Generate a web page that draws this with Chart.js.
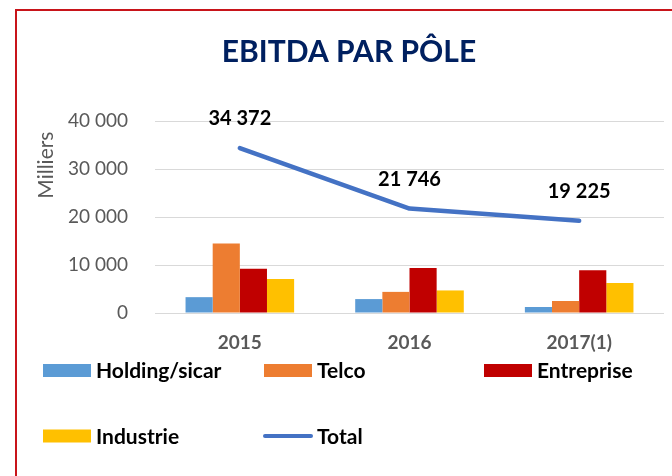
<!DOCTYPE html>
<html><head><meta charset="utf-8">
<script src="https://cdn.jsdelivr.net/npm/chart.js@4.4.0/dist/chart.umd.min.js"></script>
<style>
html,body{margin:0;padding:0;background:#fff;overflow:hidden;width:672px;height:476px;}
#frame{position:absolute;left:15px;top:9px;width:700px;height:500px;border-left:2px solid #c8141a;border-top:2px solid #c8141a;}
canvas{position:absolute;left:0;top:0;}
</style></head><body>
<div id="frame"></div>
<canvas id="c" width="672" height="476"></canvas>
<script>
const categories = ['2015', '2016', '2017(1)'];
const holding = [3300, 2900, 1250];
const telco = [14500, 4400, 2500];
const entreprise = [9200, 9400, 8900];
const industrie = [7100, 4700, 6250];
const total = [34372, 21746, 19225];
const yTicks = [0, 10000, 20000, 30000, 40000];
const titleText = 'EBITDA PAR PÔLE';
const yTitle = 'Milliers';

const FONT = 'Lato, "Open Sans", sans-serif';
function fmt(v){ return String(v).replace(/\B(?=(\d{3})+(?!\d))/g, ' '); }

const extras = {
  id: 'extras',
  afterDraw(chart){
    const ctx = chart.ctx;
    const y = chart.scales.y;
    ctx.save();
    // title
    ctx.fillStyle = '#002060';
    ctx.font = 'bold 30px ' + FONT;
    ctx.textAlign = 'center';
    ctx.textBaseline = 'alphabetic';
    ctx.fillText(titleText, 349, 62);
    // y title
    ctx.save();
    ctx.translate(46, y.getPixelForValue(30800));
    ctx.rotate(-Math.PI/2);
    ctx.fillStyle = '#595959';
    ctx.font = '21px ' + FONT;
    ctx.textAlign = 'center';
    ctx.textBaseline = 'middle';
    ctx.fillText(yTitle, 0, 0);
    ctx.restore();
    // total labels
    const meta = chart.getDatasetMeta(4);
    ctx.fillStyle = '#000';
    ctx.font = 'bold 20px ' + FONT;
    ctx.textAlign = 'center';
    ctx.textBaseline = 'middle';
    meta.data.forEach((pt, i) => {
      ctx.fillText(fmt(total[i]), pt.x, pt.y - 29);
    });
    // legend
    const cols = [43, 264, 484];
    const rows = [370.5, 436];
    const ds = chart.data.datasets;
    const order = [0,1,2,3,4];
    ctx.font = 'bold 21px ' + FONT;
    ctx.textAlign = 'left';
    order.forEach((di, k) => {
      const d = ds[di];
      const x = cols[k % 3], yy = rows[Math.floor(k / 3)];
      if (d.type === 'line') {
        ctx.strokeStyle = d.borderColor;
        ctx.lineWidth = 4;
        ctx.lineCap = 'round';
        ctx.beginPath();
        ctx.moveTo(x + 1, yy);
        ctx.lineTo(x + 47, yy);
        ctx.stroke();
      } else {
        ctx.fillStyle = d.backgroundColor;
        ctx.fillRect(x, yy - 6.5, 48, 13);
      }
      ctx.fillStyle = '#000';
      ctx.fillText(d.label, x + 53, yy + 1);
    });
    ctx.restore();
  }
};

new Chart(document.getElementById('c'), {
  type: 'bar',
  data: {
    labels: categories,
    datasets: [
      {label: 'Holding/sicar', data: holding, backgroundColor: '#5b9bd5', order: 1},
      {label: 'Telco', data: telco, backgroundColor: '#ed7d31', order: 1},
      {label: 'Entreprise', data: entreprise, backgroundColor: '#c00000', order: 1},
      {label: 'Industrie', data: industrie, backgroundColor: '#ffc000', order: 1},
      {label: 'Total', type: 'line', data: total, borderColor: '#4472c4', backgroundColor: '#4472c4',
       borderWidth: 4.5, pointRadius: 0, borderCapStyle: 'round', borderJoinStyle: 'round', tension: 0, order: 0}
    ]
  },
  options: {
    responsive: false,
    animation: false,
    devicePixelRatio: 1,
    layout: {padding: {top: 121, left: 0, right: 8, bottom: 115}},
    datasets: {bar: {categoryPercentage: 0.64, barPercentage: 1.0}},
    plugins: {legend: {display: false}, tooltip: {enabled: false}, title: {display: false}},
    scales: {
      x: {
        grid: {display: false, drawTicks: false},
        border: {display: false},
        ticks: {color: '#595959', font: {family: FONT, size: 19, weight: 'bold'}, padding: 18},
        afterFit(s){ s.height = 48; }
      },
      y: {
        min: 0, max: 40000,
        afterBuildTicks(s){ s.ticks = yTicks.map(v => ({value: v})); },
        grid: {color: '#d9d9d9', lineWidth: 1, drawTicks: false},
        border: {display: false},
        ticks: {color: '#595959', font: {family: FONT, size: 19}, padding: 27, callback: v => fmt(v)},
        afterFit(s){ s.width = 155; }
      }
    }
  },
  plugins: [extras]
});
</script>
</body></html>
